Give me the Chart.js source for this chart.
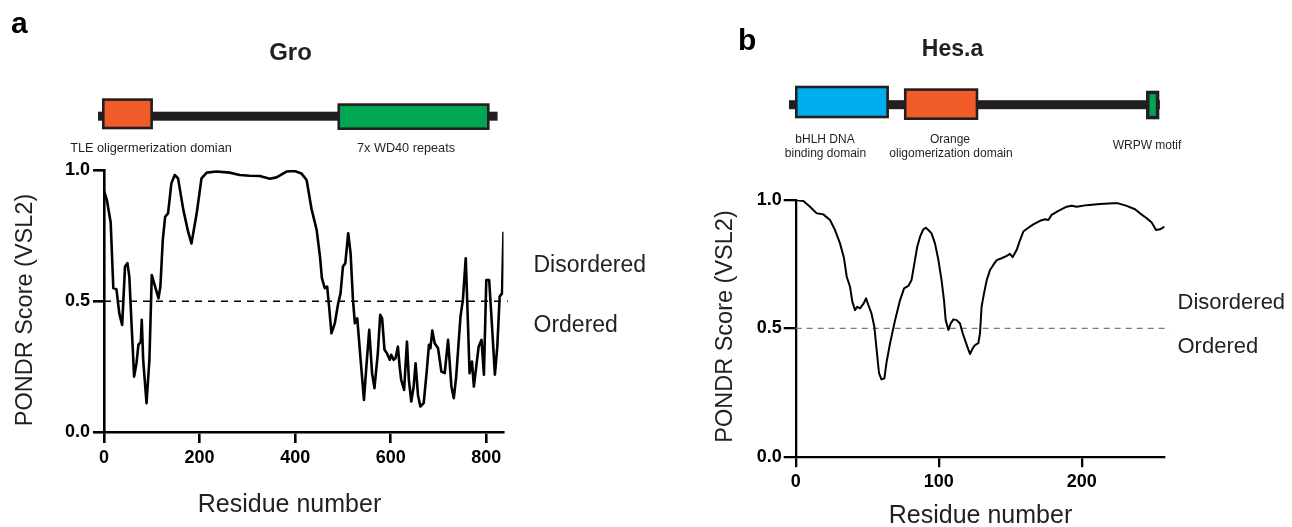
<!DOCTYPE html>
<html><head><meta charset="utf-8">
<script src="https://cdn.jsdelivr.net/npm/chart.js@4.4.1/dist/chart.umd.min.js"></script>
<style>
html,body{margin:0;padding:0;background:#fff;width:1292px;height:527px;overflow:hidden}
canvas{position:absolute;top:0}
#ca{left:0;width:660px;height:527px}
#cb{left:660px;width:632px;height:527px}
</style></head><body>
<canvas id="ca" width="660" height="527"></canvas>
<canvas id="cb" width="632" height="527"></canvas>
<script>
// ---------- DATA ----------
const groResidue = [0,6,14,19.5,26,32,38,44,49,53,58,63,68,72,77,79,82,89,95,100,107,114,118,123,128,134,141,148,155,166,176,183,194,204,215,235,263,284,305,326,347,361,382,399,413,424,434,445,452,456,462,467,471,476,483,490,495,500,505,511,516,521,525,530,537,544,549,555,561,566,573,578,582,587,592,598,601,606,610,615,619,622,628,634,638,643,648,652,657,662,669,675,680,683,687,692,699,706,713,720,727,732,737,746,751,757,760,765,770,774,779,784,790,795,800,806,812,818,823,828,833,836];
const groScore = [0.92,0.886,0.80,0.55,0.546,0.454,0.41,0.632,0.645,0.594,0.40,0.213,0.264,0.334,0.346,0.429,0.277,0.112,0.277,0.60,0.556,0.511,0.556,0.733,0.822,0.835,0.949,0.981,0.968,0.848,0.765,0.72,0.835,0.968,0.99,0.994,0.99,0.981,0.978,0.977,0.967,0.972,0.994,0.996,0.987,0.962,0.854,0.772,0.67,0.588,0.55,0.556,0.48,0.378,0.416,0.492,0.53,0.632,0.645,0.759,0.683,0.505,0.416,0.435,0.277,0.124,0.251,0.391,0.226,0.169,0.302,0.448,0.435,0.315,0.302,0.277,0.296,0.277,0.283,0.327,0.245,0.20,0.162,0.346,0.20,0.118,0.175,0.264,0.143,0.099,0.112,0.226,0.334,0.321,0.388,0.34,0.321,0.232,0.226,0.353,0.175,0.131,0.213,0.442,0.505,0.664,0.505,0.226,0.27,0.175,0.251,0.327,0.353,0.22,0.581,0.581,0.404,0.22,0.327,0.518,0.53,0.765];

const hesResidue = [0,5.4,10,14.7,19.3,24,27.5,31,33.8,35.7,38,39.6,41.5,43,45,47.3,49.2,50.8,53,55,56.6,58.3,60,62,63.6,66,69.5,73,75.8,78.8,81,83.4,85,87,89.3,91,92.8,95,97.4,99.8,102,103.7,104.9,106.8,108.4,110.3,112.6,114.9,116.8,118.4,120,121.9,123.8,125.4,127.7,128.9,130,131.7,133.6,135.9,138.2,140.6,144,147.6,149.9,151.7,154.5,156.9,159.2,162.7,166.2,170.9,174.4,176.7,179,183.7,189.5,193,196.5,203.5,212.8,222,225.6,231.5,237.3,240.8,245.5,249,252,254.8,258];
const hesScore = [1.0,0.996,0.974,0.948,0.944,0.922,0.883,0.831,0.773,0.701,0.662,0.604,0.571,0.584,0.578,0.595,0.617,0.591,0.558,0.506,0.416,0.325,0.301,0.305,0.37,0.442,0.532,0.61,0.656,0.665,0.688,0.766,0.818,0.857,0.886,0.892,0.883,0.87,0.831,0.766,0.688,0.61,0.532,0.494,0.519,0.535,0.532,0.519,0.481,0.455,0.429,0.40,0.422,0.435,0.442,0.481,0.584,0.636,0.688,0.727,0.747,0.766,0.773,0.782,0.79,0.777,0.805,0.844,0.877,0.892,0.905,0.919,0.925,0.922,0.942,0.958,0.974,0.978,0.974,0.98,0.984,0.987,0.987,0.977,0.964,0.948,0.929,0.912,0.883,0.886,0.896];

const threshold = 0.5;
const yTicks = [0, 0.5, 1.0];
const groXTicks = [0, 200, 400, 600, 800];
const hesXTicks = [0, 100, 200];

// domain diagrams (residue units)
const groBackbone = [-12.5, 823.6];
const groDomainNames = ['TLE oligermerization domian', '7x WD40 repeats'];
const groDomainStart = [-4.2, 488.5];
const groDomainEnd = [102.4, 806.9];
const hesBackbone = [-4.7, 254.7];
const hesDomainNames = ['bHLH DNA binding domain', 'Orange oligomerization domain', 'WRPW motif'];
const hesDomainStart = [-0.5, 75.7, 245];
const hesDomainEnd = [65.2, 127.7, 254.3];

// ---------- STYLE ----------
const FAM = '"Liberation Sans", Arial, Helvetica, sans-serif';
const INK = '#231f20';

const decor = {
  id: 'decor',
  afterDraw(chart, args, o) {
    const ctx = chart.ctx, xs = chart.scales.x, ox = o.offsetX;
    ctx.save();
    // backbone
    const b0 = xs.getPixelForValue(o.backbone[0]), b1 = xs.getPixelForValue(o.backbone[1]);
    ctx.fillStyle = INK;
    ctx.fillRect(b0, o.backboneY - o.backboneH / 2, b1 - b0, o.backboneH);
    // boxes
    o.starts.forEach((s, i) => {
      const x0 = xs.getPixelForValue(s), x1 = xs.getPixelForValue(o.ends[i]);
      const top = o.boxTop[i], bot = o.boxBottom[i], lw = o.boxLw[i];
      ctx.fillStyle = INK;
      ctx.fillRect(x0, top, x1 - x0, bot - top);
      ctx.fillStyle = o.colors[i];
      ctx.fillRect(x0 + lw, top + lw, x1 - x0 - 2 * lw, bot - top - 2 * lw);
    });
    // texts
    o.texts.forEach(t => {
      ctx.font = (t.bold ? 'bold ' : '') + t.size + 'px ' + FAM;
      ctx.fillStyle = t.color || INK;
      ctx.textAlign = t.align || 'center';
      ctx.textBaseline = 'alphabetic';
      if (t.rot) {
        ctx.save();
        ctx.translate(t.x - ox, t.y);
        ctx.rotate(-Math.PI / 2);
        ctx.fillText(t.text, 0, 0);
        ctx.restore();
      } else {
        ctx.fillText(t.text, t.x - ox, t.y);
      }
    });
    ctx.restore();
  }
};

function makeChart(id, cfg) {
  const pts = cfg.xs.map((x, i) => ({x: x, y: cfg.ys[i]}));
  return new Chart(document.getElementById(id), {
    type: 'line',
    data: {
      datasets: [
        { data: pts, borderColor: '#000', borderWidth: cfg.lineW, pointRadius: 0, tension: 0,
          borderJoinStyle: 'round', order: 0 },
        { data: [{x: 0, y: threshold}, {x: cfg.dashEnd, y: threshold}], borderColor: cfg.dashColor,
          borderWidth: cfg.dashW, borderDash: cfg.dash, pointRadius: 0, clip: false, order: 1 }
      ]
    },
    options: {
      responsive: false, animation: false, devicePixelRatio: 1,
      layout: { padding: cfg.padding },
      plugins: { legend: { display: false }, tooltip: { enabled: false }, decor: cfg.decor },
      scales: {
        x: {
          type: 'linear', min: 0, max: cfg.xMax,
          afterFit: s => { s.height = 60; },
          afterBuildTicks: s => { s.ticks = cfg.xTicks.map(v => ({value: v})); },
          ticks: { color: '#000', padding: 4, font: { family: FAM, size: 18, weight: 'bold' },
                   callback: v => String(v), maxRotation: 0, autoSkip: false },
          grid: { drawOnChartArea: false, drawTicks: true, tickLength: 10.5, lineWidth: cfg.axisW, tickWidth: cfg.axisW, tickColor: '#000' },
          border: { display: true, color: '#000', width: cfg.axisW }
        },
        y: {
          min: 0, max: 1,
          afterFit: s => { s.width = 60; },
          afterBuildTicks: s => { s.ticks = yTicks.map(v => ({value: v})); },
          ticks: { color: '#000', padding: cfg.yPad, font: { family: FAM, size: 18, weight: 'bold' },
                   callback: v => Number(v).toFixed(1) },
          grid: { drawOnChartArea: false, drawTicks: true, tickLength: cfg.yTick, lineWidth: cfg.axisW, tickWidth: cfg.axisW, tickColor: '#000' },
          border: { display: true, color: '#000', width: cfg.axisW }
        }
      }
    },
    plugins: [decor]
  });
}

makeChart('ca', {
  xs: groResidue, ys: groScore, xMax: 836, xTicks: groXTicks,
  lineW: 2.6, axisW: 2.6, dash: [7, 6], dashW: 1.3, dashColor: '#000', dashEnd: 845,
  padding: { left: 44, right: 156.5, top: 170, bottom: 34.5 },
  yPad: 3, yTick: 11,
  decor: {
    offsetX: 0,
    backbone: groBackbone, backboneY: 116.2, backboneH: 9,
    starts: groDomainStart, ends: groDomainEnd,
    boxTop: [98.3, 103.3], boxBottom: [129.3, 130], boxLw: [2.6, 2.6],
    colors: ['#f15a29', '#00a651'],
    texts: [
      { text: 'a', x: 11, y: 33, size: 30, bold: true, align: 'left', color: '#000' },
      { text: 'Gro', x: 290.5, y: 60, size: 24, bold: true },
      { text: groDomainNames[0], x: 151, y: 152, size: 12.7 },
      { text: groDomainNames[1], x: 406, y: 152, size: 12.7 },
      { text: 'Disordered', x: 533.5, y: 272.3, size: 23, align: 'left' },
      { text: 'Ordered', x: 533.5, y: 332.3, size: 23, align: 'left' },
      { text: 'Residue number', x: 289.5, y: 511.7, size: 25 },
      { text: 'PONDR Score (VSL2)', x: 31.5, y: 310, size: 23.5, rot: true }
    ]
  }
});

makeChart('cb', {
  xs: hesResidue, ys: hesScore, xMax: 258, xTicks: hesXTicks,
  lineW: 2, axisW: 2.3, dash: [6, 5], dashW: 1.2, dashColor: '#7a7a7a', dashEnd: 261.7,
  padding: { left: 75.7, right: 127.4, top: 200, bottom: 10.3 },
  yPad: 2, yTick: 12,
  decor: {
    offsetX: 660,
    backbone: hesBackbone, backboneY: 104.7, backboneH: 9,
    starts: hesDomainStart, ends: hesDomainEnd,
    boxTop: [85.7, 88.3, 90.7], boxBottom: [118.3, 120, 119.3], boxLw: [2.6, 2.6, 3.5],
    colors: ['#00aeef', '#f15a29', '#00a651'],
    texts: [
      { text: 'b', x: 738, y: 50, size: 30, bold: true, align: 'left', color: '#000' },
      { text: 'Hes.a', x: 952.5, y: 56, size: 23, bold: true },
      { text: 'bHLH DNA', x: 825, y: 142.7, size: 12 },
      { text: 'binding domain', x: 825.5, y: 157, size: 12 },
      { text: 'Orange', x: 950, y: 142.5, size: 12 },
      { text: 'oligomerization domain', x: 951, y: 157, size: 12 },
      { text: 'WRPW motif', x: 1147, y: 149.3, size: 12 },
      { text: 'Disordered', x: 1177.5, y: 309.3, size: 22, align: 'left' },
      { text: 'Ordered', x: 1177.5, y: 352.7, size: 22, align: 'left' },
      { text: 'Residue number', x: 980.5, y: 523.3, size: 25 },
      { text: 'PONDR Score (VSL2)', x: 732, y: 326.5, size: 23.5, rot: true }
    ]
  }
});
</script>
</body></html>
